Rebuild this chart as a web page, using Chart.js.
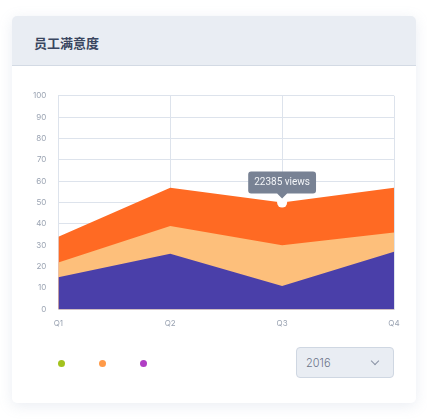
<!DOCTYPE html>
<html>
<head>
<meta charset="utf-8">
<script src="https://cdn.jsdelivr.net/npm/chart.js@4/dist/chart.umd.min.js"></script>
<style>
  html, body { margin: 0; padding: 0; background: #fff; }
  body { width: 427px; height: 419px; position: relative; overflow: hidden; font-family: Inter, "Noto Sans CJK SC", sans-serif; }
  .card {
    position: absolute; left: 12px; top: 16px; width: 404px; height: 387px;
    background: #fff; border-radius: 5px;
    box-shadow: 0 3px 14px rgba(140, 155, 190, 0.18);
  }
  .card-header {
    height: 49px; background: #e9edf3; border-bottom: 1px solid #d3dae4;
    border-radius: 5px 5px 0 0;
  }
  .card-header h3 {
    margin: 0; position: absolute; left: 22px; top: 17px;
    font: 600 13px "Noto Sans CJK SC", sans-serif; color: #3a4660;
  }
  .chart-wrap { position: absolute; left: 8px; top: 63px; width: 390px; height: 267px; }
  .dots { position: absolute; left: 46px; top: 344px; }
  .dots span { position: absolute; top: 0; width: 7px; height: 7px; border-radius: 50%; }
  .select {
    position: absolute; left: 284px; top: 331px; width: 98px; height: 31px;
    background: #e9edf3; border: 1px solid #cfd7e2; border-radius: 4px; box-sizing: border-box;
    font: 300 11px Inter, sans-serif; color: #6b7489;
  }
  .select .txt { position: absolute; left: 9px; top: 8px; }
  .select .chev {
    position: absolute; right: 15px; top: 10px; width: 5px; height: 5px;
    border-right: 1px solid #8a93a5; border-bottom: 1px solid #8a93a5; transform: rotate(45deg);
  }
</style>
</head>
<body>
<div class="card">
  <div class="card-header"><h3>员工满意度</h3></div>
  <div class="chart-wrap"><canvas id="myChart"></canvas></div>
  <div class="dots">
    <span style="left:0;background:#a3c21d"></span>
    <span style="left:41px;background:#ff9a48"></span>
    <span style="left:82px;background:#b03ec4"></span>
  </div>
  <div class="select"><span class="txt">2016</span><span class="chev"></span></div>
</div>
<script>
  var quarters = ['Q1', 'Q2', 'Q3', 'Q4'];
  var yTicks = [0, 10, 20, 30, 40, 50, 60, 70, 80, 90, 100];
  // tops of each band
  var purpleSeries = [15, 26, 11, 27];
  var lightOrangeSeries = [22, 39, 30, 36];
  var darkOrangeSeries = [34, 57, 50, 57];
  var tooltipText = '22385 views';
  var tooltipIndex = 2;

  function band(data, color) {
    return {
      data: data,
      backgroundColor: color,
      borderColor: color,
      borderWidth: 0,
      fill: 'origin',
      tension: 0,
      pointRadius: 0,
      pointHoverRadius: 5,
      pointHoverBackgroundColor: '#fff',
      pointHoverBorderColor: '#fff',
      pointHoverBorderWidth: 0
    };
  }

  var ctx = document.getElementById('myChart').getContext('2d');
  var chart = new Chart(ctx, {
    type: 'line',
    data: {
      labels: quarters,
      datasets: [
        band(purpleSeries, '#4a3fa9'),
        band(lightOrangeSeries, '#fdbf7b'),
        band(darkOrangeSeries, '#ff6a23')
      ]
    },
    options: {
      responsive: true,
      maintainAspectRatio: false,
      animation: false,
      layout: { padding: { left: 1, right: 16, top: 2, bottom: 9 } },
      plugins: {
        legend: { display: false },
        tooltip: {
          backgroundColor: '#788294',
          titleFont: { size: 0 },
          bodyFont: { family: 'Roboto', size: 10 },
          bodyColor: '#f2f4f7',
          displayColors: false,
          yAlign: 'bottom',
          caretSize: 5,
          caretPadding: 4,
          cornerRadius: 3,
          padding: { x: 6, y: 5 },
          callbacks: {
            title: function() { return ''; },
            label: function() { return tooltipText; }
          }
        }
      },
      scales: {
        x: {
          grid: { color: '#dde3ec', drawTicks: false },
          border: { color: '#dde3ec' },
          ticks: { color: '#9aa3b2', font: { family: 'Inter', size: 8 }, padding: 9 }
        },
        y: {
          min: 0,
          max: 100,
          afterBuildTicks: function(axis) {
            axis.ticks = yTicks.map(function(v) { return { value: v }; });
          },
          grid: { color: '#dde3ec', drawTicks: false },
          border: { color: '#dde3ec' },
          ticks: { color: '#9aa3b2', font: { family: 'Inter', size: 8 }, padding: 12 }
        }
      }
    }
  });

  var pt = chart.getDatasetMeta(2).data[tooltipIndex];
  chart.setActiveElements([{ datasetIndex: 2, index: tooltipIndex }]);
  chart.tooltip.setActiveElements([{ datasetIndex: 2, index: tooltipIndex }], { x: pt.x, y: pt.y });
  chart.update();
</script>
</body>
</html>
